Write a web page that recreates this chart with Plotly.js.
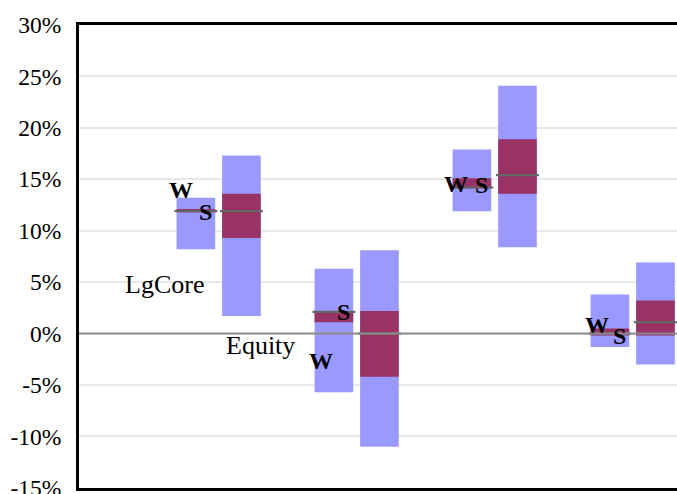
<!DOCTYPE html>
<html>
<head>
<meta charset="utf-8">
<script src="https://cdn.plot.ly/plotly-3.0.1.min.js"></script>
<style>html,body{margin:0;padding:0;background:#fff;}#chart{width:677px;height:494px;}</style>
</head>
<body>
<div id="chart"></div>
<script>
// ---- data (percent) ----
var groups = [1, 2, 3, 4];
var wHigh = [13.2, 6.3, 17.9, 3.8];
var wLow = [8.2, -5.7, 11.9, -1.3];
var wInnerHigh = [12.1, 2.2, 15.1, 0.5];
var wInnerLow = [11.8, 1.1, 14.1, -0.2];
var wMedian = [11.9, 2.1, 14.2, 0.0];
var sHigh = [17.3, 8.1, 24.1, 6.9];
var sLow = [1.7, -11.0, 8.4, -3.0];
var sInnerHigh = [13.6, 2.2, 18.9, 3.2];
var sInnerLow = [9.3, -4.2, 13.6, -0.2];
var sMedian = [11.9, 0.0, 15.4, 1.1];
var tickVals = [-15, -10, -5, 0, 5, 10, 15, 20, 25, 30];
var tickText = ['-15%', '-10%', '-5%', '0%', '5%', '10%', '15%', '20%', '25%', '30%'];

var offW = -0.153, offS = 0.177, barW = 0.28, medHalf = 0.155;
var LIGHT = '#9999ff', DARK = '#993366', MED = '#666666';

function xs(off) { return groups.map(function (g) { return g + off; }); }
function diff(a, b) { return a.map(function (v, i) { return v - b[i]; }); }
function medLine(off, med) {
  var x = [], y = [];
  groups.forEach(function (g, i) {
    x.push(g + off - medHalf, g + off + medHalf, null);
    y.push(med[i], med[i], null);
  });
  return { type: 'scatter', mode: 'lines', x: x, y: y, line: { color: MED, width: 2.2 }, hoverinfo: 'skip', showlegend: false };
}
function bar(off, hi, lo, color) {
  return { type: 'bar', x: xs(off), y: diff(hi, lo), base: lo, width: barW,
    marker: { color: color, line: { width: 0 } }, showlegend: false };
}

var traces = [
  bar(offW, wHigh, wLow, LIGHT),
  bar(offS, sHigh, sLow, LIGHT),
  bar(offW, wInnerHigh, wInnerLow, DARK),
  bar(offS, sInnerHigh, sInnerLow, DARK),
  medLine(offW, wMedian),
  medLine(offS, sMedian)
];

var serif = 'Liberation Serif';
function lab(t, x, y, bold, size) {
  return { text: bold ? '<b>' + t + '</b>' : t, x: x, y: y, xref: 'x', yref: 'y', showarrow: false,
    xanchor: 'center', yanchor: 'middle', font: { family: serif, size: size, color: '#000' } };
}

var layout = {
  width: 677, height: 494,
  margin: { l: 79, r: 0, t: 25, b: 6 },
  paper_bgcolor: '#fff', plot_bgcolor: '#fff',
  barmode: 'overlay', showlegend: false,
  font: { family: serif, size: 23.5, color: '#000' },
  xaxis: { range: [0, 4.333], showgrid: false, zeroline: false, showticklabels: false, ticks: '',
    showline: true, linecolor: '#000', linewidth: 3, mirror: true },
  yaxis: { range: [-15.02, 30], tickvals: tickVals, ticktext: tickText, showgrid: true,
    gridcolor: '#e8e8e8', gridwidth: 2, zeroline: false, showline: true, linecolor: '#000', linewidth: 3,
    ticks: '', ticklabelstandoff: 10, ticklabeloverflow: 'allow',
    tickfont: { family: serif, size: 23.5, color: '#000' } },
  shapes: [{ type: 'line', xref: 'paper', x0: 0, x1: 1, yref: 'y', y0: 0, y1: 0,
    line: { color: '#8c8c8c', width: 2 }, layer: 'above' }],
  annotations: [
    lab('W', 0.739, 14.0, true, 24), lab('S', 0.913, 11.8, true, 24),
    lab('LgCore', 0.623, 4.8, false, 26), lab('Equity', 1.312, -1.2, false, 26),
    lab('W', 1.754, -2.7, true, 24), lab('S', 1.913, 2.1, true, 24),
    lab('W', 2.732, 14.5, true, 24), lab('S', 2.92, 14.4, true, 24),
    lab('W', 3.754, 0.8, true, 24), lab('S', 3.913, -0.2, true, 24)
  ]
};

Plotly.newPlot('chart', traces, layout, { displayModeBar: false, staticPlot: true });
</script>
</body>
</html>
